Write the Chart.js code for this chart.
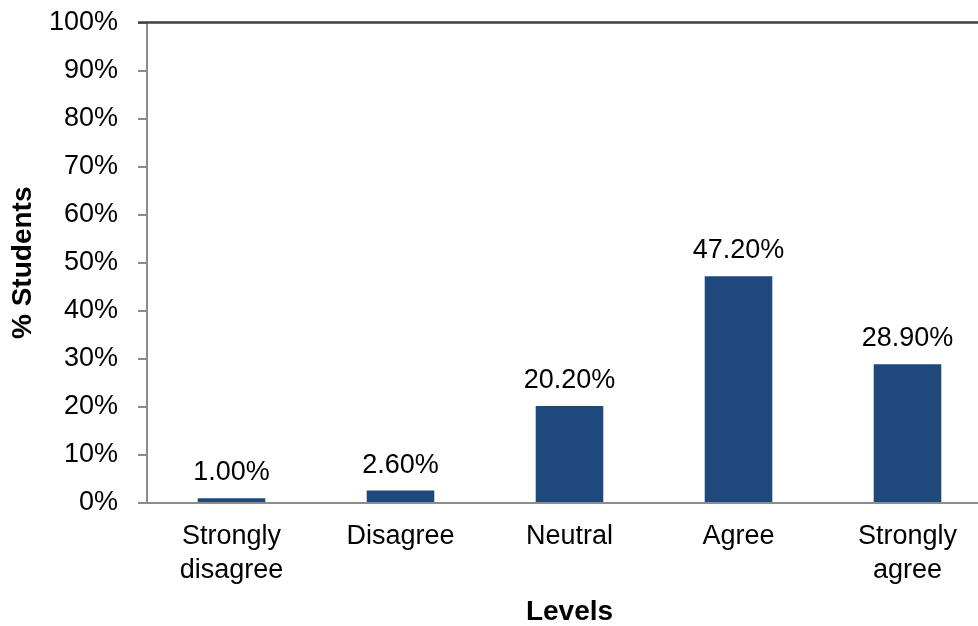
<!DOCTYPE html>
<html>
<head>
<meta charset="utf-8">
<script src="https://cdn.jsdelivr.net/npm/chart.js@4"></script>
<style>
html,body{margin:0;padding:0;background:#fff;overflow:hidden;width:978px;height:626px;}
#wrap{width:992px;height:626px;position:relative;}
</style>
</head>
<body>
<div id="wrap"><canvas id="c" width="992" height="626"></canvas></div>
<script>
const categories = [["Strongly","disagree"], "Disagree", "Neutral", "Agree", ["Strongly","agree"]];
const values = [1.0, 2.6, 20.2, 47.2, 28.9];
const yTicks = [0, 10, 20, 30, 40, 50, 60, 70, 80, 90, 100];
const yTitle = "% Students";
const xTitle = "Levels";

const FONT = "'Liberation Sans', Arial, sans-serif";

const labelPlugin = {
  id: 'barLabels',
  afterDatasetsDraw(chart) {
    const ctx = chart.ctx;
    const meta = chart.getDatasetMeta(0);
    ctx.save();
    ctx.font = '27px ' + FONT;
    ctx.fillStyle = '#000';
    ctx.textAlign = 'center';
    ctx.textBaseline = 'alphabetic';
    meta.data.forEach((bar, i) => {
      ctx.fillText(values[i].toFixed(2) + '%', bar.x, bar.y - 18);
    });
    ctx.restore();
  }
};

const topBorder = {
  id: 'topBorder',
  afterDraw(chart) {
    const a = chart.chartArea;
    const ctx = chart.ctx;
    ctx.save();
    ctx.strokeStyle = '#404040';
    ctx.lineWidth = 2.5;
    ctx.beginPath();
    ctx.moveTo(a.left - 9, a.top);
    ctx.lineTo(a.right, a.top);
    ctx.stroke();
    ctx.restore();
  }
};

new Chart(document.getElementById('c'), {
  type: 'bar',
  data: {
    labels: categories,
    datasets: [{
      data: values,
      backgroundColor: '#1f497d',
      barPercentage: 0.4,
      categoryPercentage: 1.0
    }]
  },
  options: {
    responsive: false,
    animation: false,
    layout: { padding: { top: 0, right: 0, bottom: 0, left: 0 } },
    plugins: { legend: { display: false }, tooltip: { enabled: false } },
    scales: {
      y: {
        min: 0, max: 100,
        afterBuildTicks(axis) { axis.ticks = yTicks.map(v => ({ value: v })); },
        afterFit(axis) { axis.width = 147; axis.paddingTop = 22.5; },
        ticks: {
          callback: v => v + '%',
          font: { size: 27, family: FONT },
          color: '#000',
          padding: 20
        },
        grid: { drawOnChartArea: false, tickLength: 9, color: '#8c8c8c', lineWidth: 2 },
        border: { color: '#8c8c8c', width: 2 },
        title: {
          display: true, text: yTitle,
          font: { size: 28, weight: 'bold', family: FONT },
          color: '#000',
          padding: { top: 6, bottom: 10 }
        }
      },
      x: {
        ticks: {
          font: { size: 27, family: FONT, lineHeight: 1.24 },
          color: '#000',
          padding: 9,
          maxRotation: 0
        },
        grid: { display: false },
        border: { color: '#8c8c8c', width: 2 },
        title: {
          display: true, text: xTitle,
          font: { size: 28, weight: 'bold', family: FONT, lineHeight: 1.0 },
          color: '#000',
          padding: { top: 2, bottom: 0 }
        }
      }
    }
  },
  plugins: [labelPlugin, topBorder]
});
</script>
</body>
</html>
